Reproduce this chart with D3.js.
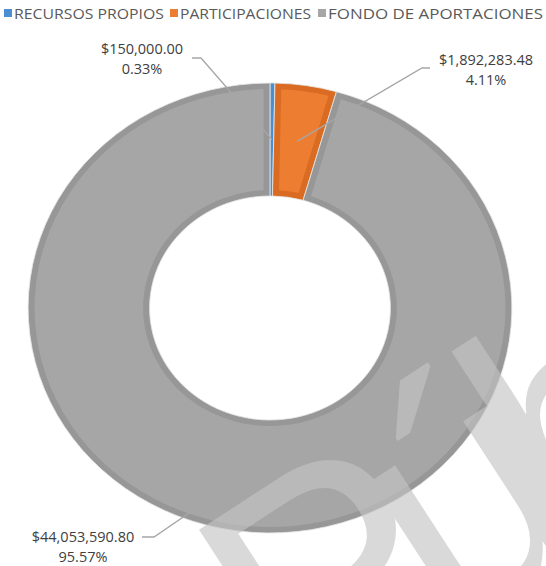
<!DOCTYPE html>
<html>
<head>
  <meta charset="utf-8" />
  <title>Donut</title>
  <script src="https://d3js.org/d3.v7.min.js"></script>
  <style>
    body { margin: 0; background: #fff; }
    text { font-family: 'Open Sans', sans-serif; fill: #404040; }
  </style>
</head>
<body>
  <svg id="chart" width="546" height="566"></svg>
  <script>
    // data
    var categories = ["RECURSOS PROPIOS", "PARTICIPACIONES", "FONDO DE APORTACIONES"];
    var amounts = [150000.00, 1892283.48, 44053590.80];
    var percents = ["0.33%", "4.11%", "95.57%"];

    var colors = ["#4a8fd2", "#ed7d31", "#a6a6a6"];
    var borders = ["#4a8fd2", "#d96c22", "#979797"];

    var svg = d3.select("#chart");

    // legend (x of the square, width of the text)
    var legendX = [4, 170, 318];
    var legendW = [150, 131, 215];
    var legend = svg.append("g").attr("class", "legend");
    categories.forEach(function(c, i) {
      legend.append("rect")
        .attr("x", legendX[i]).attr("y", 9)
        .attr("width", 8).attr("height", 8)
        .attr("fill", colors[i]);
      legend.append("text")
        .attr("x", legendX[i] + 10).attr("y", 19)
        .attr("font-size", 15)
        .attr("textLength", legendW[i])
        .attr("lengthAdjust", "spacingAndGlyphs")
        .style("fill", "#595959")
        .text(c);
    });

    // donut
    var cx = 270, cy = 308, sx = 1.075;
    var outerR = 225, innerR = 112;

    var pie = d3.pie().sort(null).value(function(d) { return d; });
    var arcs = pie(amounts);

    var arc = d3.arc().innerRadius(innerR).outerRadius(outerR);
    var arcIn = d3.arc().innerRadius(innerR + 6).outerRadius(outerR - 6)
      .padRadius(168).padAngle(12 / 168);

    var g = svg.append("g")
      .attr("transform", "translate(" + cx + "," + cy + ") scale(" + sx + ",1)");

    g.selectAll("path.base").data(arcs).enter().append("path")
      .attr("class", "base")
      .attr("d", arc)
      .attr("fill", function(d, i) { return borders[i]; })
      .attr("stroke", "#e6e6e6")
      .attr("stroke-width", 0.8);

    g.selectAll("path.inner").data(arcs).enter().append("path")
      .attr("class", "inner")
      .attr("d", arcIn)
      .attr("fill", function(d, i) { return colors[i]; });

    // labels with leader lines
    var labelPos = [[142, 54], [486, 65], [83, 542]];
    var elbows = [[[192, 58], [201, 58]], [[430, 68], [422, 68]], [[142, 537], [154, 537]]];
    var fmt = d3.format("$,.2f");

    arcs.forEach(function(d, i) {
      var c = arc.centroid(d);
      var end = [cx + c[0] * sx, cy + c[1]];
      svg.append("path")
        .attr("d", d3.line()(elbows[i].concat([end])))
        .attr("fill", "none")
        .attr("stroke", "#a6a6a6")
        .attr("stroke-width", 1.3);
      svg.append("text")
        .attr("x", labelPos[i][0]).attr("y", labelPos[i][1])
        .attr("text-anchor", "middle")
        .attr("font-size", 14.5)
        .text(fmt(amounts[i]));
      svg.append("text")
        .attr("x", labelPos[i][0]).attr("y", labelPos[i][1] + 19.5)
        .attr("text-anchor", "middle")
        .attr("font-size", 14.5)
        .text(percents[i]);
    });

    // watermark
    svg.append("text")
      .attr("transform", "translate(300,735) rotate(-33)")
      .attr("font-size", 330)
      .attr("letter-spacing", -45)
      .style("font-family", "Liberation Sans")
      .style("fill", "#c4c4c4")
      .style("opacity", 0.64)
      .text("Pública");
  </script>
</body>
</html>
